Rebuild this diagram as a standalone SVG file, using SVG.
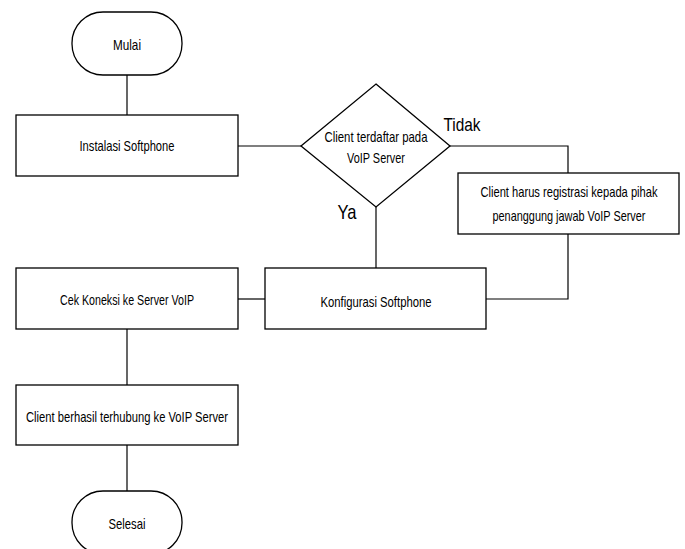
<svg xmlns="http://www.w3.org/2000/svg" width="685" height="549" viewBox="0 0 685 549">
<style>
.s{fill:#fff;stroke:#000;stroke-width:1.3}
.c{fill:none;stroke:#000;stroke-width:1.2}
text{font-family:"Liberation Sans Narrow","Liberation Sans",Arial,sans-serif;font-size:15px;fill:#000;text-anchor:middle}
.lbl{font-size:19px}
</style>
<rect width="685" height="549" fill="#fff"/>
<g id="connectors">
<path class="c" d="M127 75V115"/>
<path class="c" d="M238 146H301"/>
<path class="c" d="M450 146H568V173"/>
<path class="c" d="M568 234V299H486"/>
<path class="c" d="M376 207V268"/>
<path class="c" d="M265 299H238"/>
<path class="c" d="M127 329V385"/>
<path class="c" d="M127 445V491"/>
<text class="lbl" x="462" y="131" textLength="37" lengthAdjust="spacingAndGlyphs">Tidak</text>
<text class="lbl" x="347" y="219" textLength="19" lengthAdjust="spacingAndGlyphs" style="font-size:21px">Ya</text>
</g>
<g id="mulai">
<rect class="s" x="72" y="12" width="110" height="63" rx="31" ry="31"/>
<text x="127" y="50" textLength="28" lengthAdjust="spacingAndGlyphs">Mulai</text>
</g>
<g id="instalasi">
<rect class="s" x="16" y="115" width="222" height="61"/>
<text x="127" y="151" textLength="95" lengthAdjust="spacingAndGlyphs">Instalasi Softphone</text>
</g>
<g id="keputusan">
<polygon class="s" points="376,84 450,146 376,207 301,146"/>
<text x="376" y="142" textLength="103" lengthAdjust="spacingAndGlyphs">Client terdaftar pada</text>
<text x="376" y="163" textLength="58" lengthAdjust="spacingAndGlyphs">VoIP Server</text>
</g>
<g id="registrasi">
<rect class="s" x="458" y="173" width="221" height="61"/>
<text x="569" y="197" textLength="177" lengthAdjust="spacingAndGlyphs">Client harus registrasi kepada pihak</text>
<text x="569" y="221" textLength="153" lengthAdjust="spacingAndGlyphs">penanggung jawab VoIP Server</text>
</g>
<g id="konfigurasi">
<rect class="s" x="265" y="268" width="221" height="61"/>
<text x="376" y="307" textLength="111" lengthAdjust="spacingAndGlyphs">Konfigurasi Softphone</text>
</g>
<g id="cek">
<rect class="s" x="16" y="268" width="222" height="61"/>
<text x="127" y="305" textLength="134" lengthAdjust="spacingAndGlyphs">Cek Koneksi ke Server VoIP</text>
</g>
<g id="berhasil">
<rect class="s" x="16" y="385" width="222" height="60"/>
<text x="127" y="422" textLength="202" lengthAdjust="spacingAndGlyphs">Client berhasil terhubung ke VoIP Server</text>
</g>
<g id="selesai">
<rect class="s" x="72" y="491" width="110" height="63" rx="31" ry="31"/>
<text x="127" y="529" textLength="37" lengthAdjust="spacingAndGlyphs">Selesai</text>
</g>
</svg>
